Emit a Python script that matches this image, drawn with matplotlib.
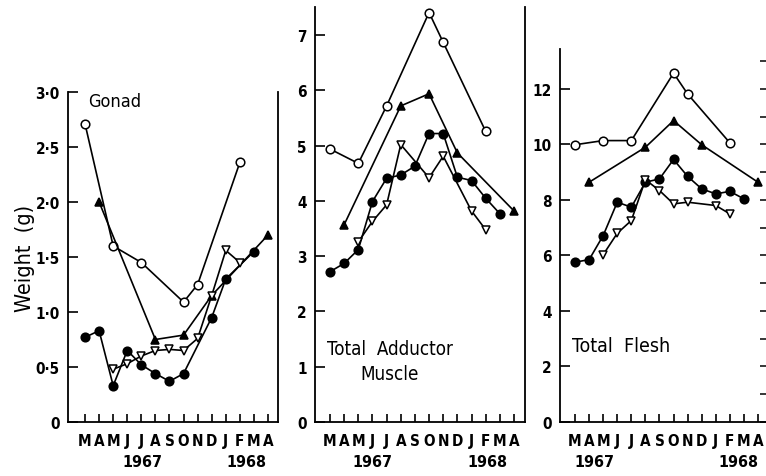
import matplotlib
matplotlib.use("Agg")
import matplotlib.pyplot as plt

plt.rcParams["font.family"] = ["DejaVu Sans"]
plt.rcParams["font.stretch"] = "condensed"

MONTHS = ["M", "A", "M", "J", "J", "A", "S", "O", "N", "D", "J", "F", "M", "A"]

# Gonad (g)
gon_open_x = [0, 2, 4, 7, 8, 11]
gon_open_y = [2.71, 1.60, 1.45, 1.09, 1.25, 2.36]
gon_tri_x = [1, 5, 7, 9, 13]
gon_tri_y = [2.00, 0.75, 0.79, 1.15, 1.70]
gon_dot_x = [0, 1, 2, 3, 4, 5, 6, 7, 9, 10, 12]
gon_dot_y = [0.77, 0.83, 0.33, 0.65, 0.52, 0.44, 0.37, 0.44, 0.95, 1.30, 1.55]
gon_inv_x = [2, 3, 4, 5, 6, 7, 8, 9, 10, 11]
gon_inv_y = [0.48, 0.53, 0.60, 0.65, 0.66, 0.65, 0.76, 1.15, 1.56, 1.45]

# Total adductor muscle (g)
add_open_x = [0, 2, 4, 7, 8, 11]
add_open_y = [4.94, 4.68, 5.72, 7.41, 6.87, 5.26]
add_tri_x = [1, 5, 7, 9, 13]
add_tri_y = [3.57, 5.72, 5.94, 4.87, 3.82]
add_dot_x = [0, 1, 2, 3, 4, 5, 6, 7, 8, 9, 10, 11, 12]
add_dot_y = [2.72, 2.87, 3.12, 3.99, 4.41, 4.47, 4.63, 5.22, 5.22, 4.43, 4.37, 4.05, 3.77]
add_inv_x = [2, 3, 4, 5, 7, 8, 10, 11]
add_inv_y = [3.26, 3.63, 3.93, 5.02, 4.42, 4.81, 3.82, 3.48]

# Total flesh (g)
fl_open_x = [0, 2, 4, 7, 8, 11]
fl_open_y = [9.99, 10.14, 10.14, 12.57, 11.82, 10.06]
fl_tri_x = [1, 5, 7, 9, 13]
fl_tri_y = [8.64, 9.90, 10.86, 9.99, 8.64]
fl_dot_x = [0, 1, 2, 3, 4, 5, 6, 7, 8, 9, 10, 11, 12]
fl_dot_y = [5.76, 5.85, 6.72, 7.92, 7.74, 8.64, 8.76, 9.46, 8.85, 8.40, 8.22, 8.31, 8.04]
fl_inv_x = [2, 3, 4, 5, 6, 7, 8, 10, 11]
fl_inv_y = [6.03, 6.80, 7.26, 8.73, 8.34, 7.86, 7.92, 7.80, 7.50]

W, H = 766, 477


def box(x0, x1, ytop, ybot=423):
    return [x0 / W, (H - ybot) / H, (x1 - x0) / W, (ybot - ytop) / H]


def draw_series(ax, series):
    styles = [
        dict(marker="o", mfc="white"),
        dict(marker="^", mfc="black"),
        dict(marker="o", mfc="black"),
        dict(marker="v", mfc="white"),
    ]
    for (x, y), st in zip(series, styles):
        ax.plot(x, y, color="black", lw=1.2, ms=6.2, mec="black", mew=1.1,
                zorder=3, clip_on=False, **st)


def style_axis(ax, xlim, ylim, yticks, ylabels, year_pos):
    ax.set_xlim(*xlim)
    ax.set_ylim(*ylim)
    ax.set_xticks(range(len(MONTHS)))
    ax.set_xticklabels(MONTHS, fontsize=11, fontweight="bold")
    ax.set_yticks(yticks)
    ax.set_yticklabels(ylabels, fontsize=11, fontweight="bold")
    ax.tick_params(axis="x", direction="in", length=6, width=1.2, pad=8)
    ax.tick_params(axis="y", direction="in", length=7, width=1.2, pad=6)
    ax.spines["top"].set_visible(False)
    for s in ("left", "bottom", "right"):
        ax.spines[s].set_linewidth(1.3)
    for x, year in year_pos:
        ax.annotate(year, xy=(x, 0), xycoords=("data", "axes fraction"),
                    xytext=(0, -40), textcoords="offset pixels",
                    ha="center", va="center", fontsize=11.5, fontweight="bold")


fig = plt.figure(figsize=(W / 100, H / 100), dpi=100, facecolor="white")

ax1 = fig.add_axes(box(68, 278, 93))
draw_series(ax1, [(gon_open_x, gon_open_y), (gon_tri_x, gon_tri_y),
                  (gon_dot_x, gon_dot_y), (gon_inv_x, gon_inv_y)])
style_axis(ax1, (-1.21, 13.71), (0, 3.0),
           [0, 0.5, 1, 1.5, 2, 2.5, 3],
           ["0", "0·5", "1·0", "1·5", "2·0", "2·5", "3·0"],
           [(4.1, "1967"), (11.5, "1968")])
ax1.text(0.095, 0.972, "Gonad", transform=ax1.transAxes, fontsize=13,
         ha="left", va="center")
ax1.set_ylabel("Weight  (g)", fontsize=15.5, labelpad=0)

ax2 = fig.add_axes(box(315, 525, 8))
draw_series(ax2, [(add_open_x, add_open_y), (add_tri_x, add_tri_y),
                  (add_dot_x, add_dot_y), (add_inv_x, add_inv_y)])
style_axis(ax2, (-1.06, 13.78), (0, 7.51), range(8),
           [str(v) for v in range(8)],
           [(3.0, "1967"), (11.1, "1968")])
ax2.text(0.357, 0.147, "Total  Adductor\nMuscle", transform=ax2.transAxes,
         fontsize=13.5, ha="center", va="center", multialignment="center",
         linespacing=1.4)

ax3 = fig.add_axes(box(560, 766, 50))
draw_series(ax3, [(fl_open_x, fl_open_y), (fl_tri_x, fl_tri_y),
                  (fl_dot_x, fl_dot_y), (fl_inv_x, fl_inv_y)])
style_axis(ax3, (-1.07, 13.57), (0, 13.44), range(0, 13, 2),
           [str(v) for v in range(0, 13, 2)],
           [(1.4, "1967"), (11.6, "1968")])
ax3.spines["right"].set_visible(False)
ax3r = ax3.twinx()
ax3r.set_ylim(0, 13.44)
ax3r.set_yticks(range(14))
ax3r.set_yticklabels([])
ax3r.tick_params(axis="y", direction="in", length=4, width=1.1)
for s in ("left", "bottom", "right", "top"):
    ax3r.spines[s].set_visible(False)
ax3.text(0.058, 0.204, "Total  Flesh", transform=ax3.transAxes,
         fontsize=14, ha="left", va="center")

fig.savefig("out.png", dpi=100, facecolor="white")
